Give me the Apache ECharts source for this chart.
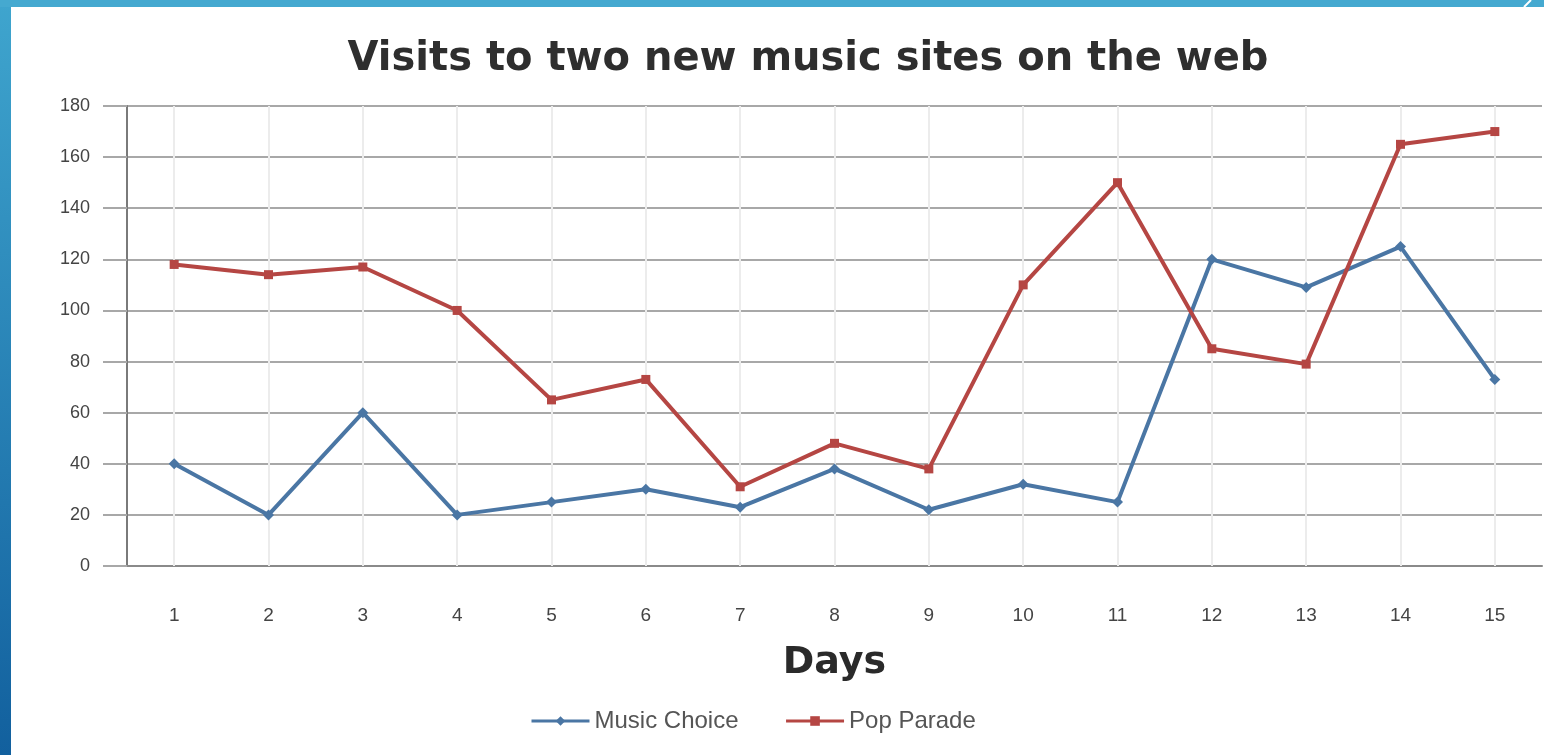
<!DOCTYPE html>
<html>
<head>
<meta charset="utf-8">
<script src="https://cdn.jsdelivr.net/npm/echarts@6/dist/echarts.min.js"></script>
<style>
  html, body { margin: 0; padding: 0; background: #ffffff; }
  #chart { width: 1544px; height: 755px; }
</style>
</head>
<body>
<div id="chart"></div>
<script>
// Daily visit counts for the two music sites
const days = ['1','2','3','4','5','6','7','8','9','10','11','12','13','14','15'];
const musicChoice = [40, 20, 60, 20, 25, 30, 23, 38, 22, 32, 25, 120, 109, 125, 73];
const popParade   = [118, 114, 117, 100, 65, 73, 31, 48, 38, 110, 150, 85, 79, 165, 170];
const seriesNames = ['Music Choice', 'Pop Parade'];
const yMin = 0, yMax = 180, yStep = 20;

const chart = echarts.init(document.getElementById('chart'), null, { renderer: 'canvas' });

chart.setOption({
  backgroundColor: '#ffffff',
  animation: false,
  title: {
    text: 'Visits to two new music sites on the web',
    left: 803,
    textAlign: 'center',
    top: 35,
    textStyle: {
      fontFamily: 'DejaVu Sans',
      fontWeight: 'bold',
      fontSize: 40,
      color: '#2e2e2e'
    }
  },
  legend: {
    data: seriesNames,
    left: 525,
    top: 704,
    itemWidth: 58,
    itemHeight: 12,
    itemGap: 46,
    lineStyle: { width: 3 },
    textStyle: { fontFamily: 'Liberation Sans', fontSize: 24, color: '#555555' }
  },
  grid: { left: 127, right: 2, top: 106, bottom: 189, containLabel: false },
  xAxis: {
    type: 'category',
    data: days,
    boundaryGap: true,
    name: 'Days',
    nameLocation: 'middle',
    nameGap: 78,
    nameTextStyle: { fontFamily: 'DejaVu Sans', fontWeight: 'bold', fontSize: 38, color: '#2a2a2a' },
    axisLine: { show: true, lineStyle: { color: '#8a8a8a', width: 2 } },
    // faint vertical guides through each day
    axisTick: { show: true, alignWithLabel: true, inside: true, length: 460, lineStyle: { color: '#ececec', width: 2 } },
    axisLabel: { margin: 40, fontFamily: 'Liberation Sans', fontSize: 19, color: '#444444' },
    splitLine: { show: false }
  },
  yAxis: {
    type: 'value',
    min: yMin,
    max: yMax,
    interval: yStep,
    axisLine: { show: true, lineStyle: { color: '#7a7a7a', width: 2 } },
    axisTick: { show: true, length: 24, lineStyle: { color: '#a8a8a8', width: 2 } },
    axisLabel: { margin: 37, fontFamily: 'Liberation Sans', fontSize: 18, color: '#444444' },
    splitLine: { show: true, lineStyle: { color: '#a8a8a8', width: 2 } }
  },
  series: [
    {
      name: seriesNames[0],
      type: 'line',
      data: musicChoice,
      color: '#4a76a4',
      symbol: 'diamond',
      symbolSize: 11,
      lineStyle: { width: 4, color: '#4a76a4' },
      itemStyle: { color: '#4a76a4' },
      z: 3
    },
    {
      name: seriesNames[1],
      type: 'line',
      data: popParade,
      color: '#b54643',
      symbol: 'rect',
      symbolSize: 9,
      lineStyle: { width: 4, color: '#b54643' },
      itemStyle: { color: '#b54643' },
      z: 4
    }
  ],
  graphic: [
    // slide frame: left bar and top strip
    {
      type: 'rect',
      shape: { x: 0, y: 0, width: 11, height: 755 },
      style: {
        fill: new echarts.graphic.LinearGradient(0, 0, 0, 1, [
          { offset: 0, color: '#3fa5ce' },
          { offset: 1, color: '#12609e' }
        ])
      },
      z: 100
    },
    {
      type: 'rect',
      shape: { x: 0, y: 0, width: 1544, height: 7 },
      style: { fill: '#45a9d0' },
      z: 100
    },
    {
      type: 'line',
      shape: { x1: 1524, y1: 7, x2: 1531, y2: 0 },
      style: { stroke: '#ffffff', lineWidth: 2 },
      z: 101
    }
  ]
});
</script>
</body>
</html>
